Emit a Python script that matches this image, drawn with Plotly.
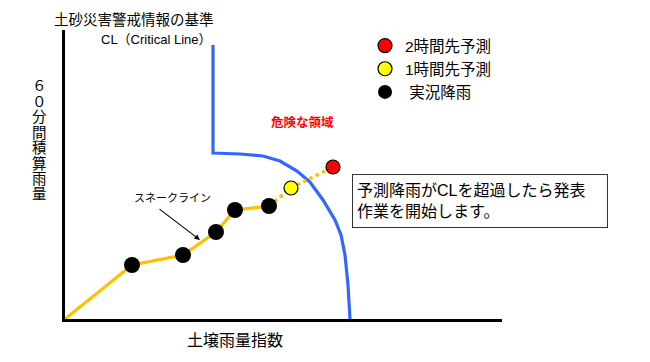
import plotly.graph_objects as go

# ---- data (chart units: x = soil-water index, y = 60-min rainfall) ----
snake_x = [0, 67, 118, 151, 170, 204]
snake_y = [0, 54, 64, 87, 109, 113]
obs_x = [67, 118, 151, 170, 204]
obs_y = [54, 64, 87, 109, 113]
fc1_x = [226]
fc1_y = [131]
fc2_x = [268]
fc2_y = [152]
cl_x = [148, 148, 175, 198, 215, 232, 245, 258, 270, 276, 280, 283, 285]
cl_y = [274, 166, 165, 163, 158, 148, 137, 119, 99, 84, 64, 34, 0]

legend_labels = ["2時間先予測", "1時間先予測", "\u00a0実況降雨"]
title_text = "土砂災害警戒情報の基準"
cl_text = "CL（Critical Line）"
danger_text = "危険な領域"
snake_text = "スネークライン"
note_text = "予測降雨がCLを超過したら発表<br>作業を開始します。"
x_title = "土壌雨量指数"
y_title = "６０分間積算雨量"

OFF = 8  # page body margin
W, H = 650 - OFF, 362 - OFF
L, R, T, B = 65 - OFF, 148, 30 - OFF, 43
PW, PH = W - L - R, H - T - B
FONT = "Liberation Sans, Noto Sans CJK JP"


def px(xp, yp):
    """page pixel -> paper coords"""
    return (xp - OFF - L) / PW, (H - B - (yp - OFF)) / PH


YEL = "#FFC000"
fig = go.Figure()

fig.add_trace(go.Scatter(x=cl_x, y=cl_y, mode="lines",
                         line=dict(color="#3366FF", width=3.2), showlegend=False,
                         hoverinfo="skip"))
fig.add_trace(go.Scatter(x=snake_x, y=snake_y, mode="lines",
                         line=dict(color=YEL, width=3.2), showlegend=False))
fig.add_trace(go.Scatter(x=[snake_x[-1]] + fc1_x + fc2_x, y=[snake_y[-1]] + fc1_y + fc2_y,
                         mode="lines", line=dict(color=YEL, width=3.5, dash="dot"),
                         showlegend=False))
fig.add_trace(go.Scatter(x=obs_x, y=obs_y, mode="markers",
                         marker=dict(color="black", size=16), showlegend=False))
fig.add_trace(go.Scatter(x=fc1_x, y=fc1_y, mode="markers",
                         marker=dict(color="#FFFF00", size=14, line=dict(color="black", width=1.2)),
                         showlegend=False))
fig.add_trace(go.Scatter(x=fc2_x, y=fc2_y, mode="markers",
                         marker=dict(color="#FF0000", size=14, line=dict(color="black", width=1.2)),
                         showlegend=False))
leg_styles = [dict(color="#FF0000", line=dict(color="black", width=1.2)),
              dict(color="#FFFF00", line=dict(color="black", width=1.2)),
              dict(color="black")]
for lab, st in zip(legend_labels, leg_styles):
    fig.add_trace(go.Scatter(x=[None], y=[None], mode="markers", name=lab,
                             marker=dict(size=14, **st)))

ann = []
def text(t, xp, yp, size, color="black", xanchor="center", bold=False, **kw):
    x, y = px(xp, yp)
    ann.append(dict(text=f"<b>{t}</b>" if bold else t, x=x, y=y, xref="paper", yref="paper",
                    xanchor=xanchor, yanchor="middle", showarrow=False,
                    font=dict(family=FONT, size=size, color=color), **kw))

text(title_text, 52, 20, 14.5, xanchor="left")
text(cl_text, 214, 40, 13, xanchor="right")
text(danger_text, 302, 122, 12.5, color="#FF0000", bold=True)
text(snake_text, 172, 198, 11)
text(x_title, 235, 340, 16)
for i, ch in enumerate(y_title):
    text(ch, 39, 86 + i * 15.5, 14.5)

bx, by = px(480, 201)
ann.append(dict(text=note_text, x=bx, y=by, xref="paper", yref="paper", showarrow=False,
                xanchor="center", yanchor="middle",
                align="left", width=246, height=44, borderpad=4, bordercolor="#333333",
                borderwidth=1, bgcolor="white", font=dict(family=FONT, size=16, color="black")))

ax_, ay_ = px(200, 240)
ann.append(dict(text="", x=ax_, y=ay_, xref="paper", yref="paper", showarrow=True,
                ax=-42, ay=-32, arrowhead=2, arrowsize=1, arrowwidth=1.1, arrowcolor="black"))

lx, ly = px(365, 29)
fig.update_layout(
    width=W, height=H, margin=dict(l=L, r=R, t=T, b=B),
    paper_bgcolor="white", plot_bgcolor="white",
    annotations=ann,
    showlegend=True,
    legend=dict(x=lx, y=ly, xanchor="left", yanchor="top", bgcolor="rgba(0,0,0,0)",
                font=dict(family=FONT, size=15.5, color="black"), itemsizing="trace",
                tracegroupgap=0),
    xaxis=dict(range=[0, PW], showgrid=False, zeroline=False, showticklabels=False,
               ticks="", showline=True, linecolor="black", linewidth=2.5, fixedrange=True),
    yaxis=dict(range=[0, PH], showgrid=False, zeroline=False, showticklabels=False,
               ticks="", showline=True, linecolor="black", linewidth=2.5, fixedrange=True),
)

fig.write_html("out.html", config={"displayModeBar": False})
